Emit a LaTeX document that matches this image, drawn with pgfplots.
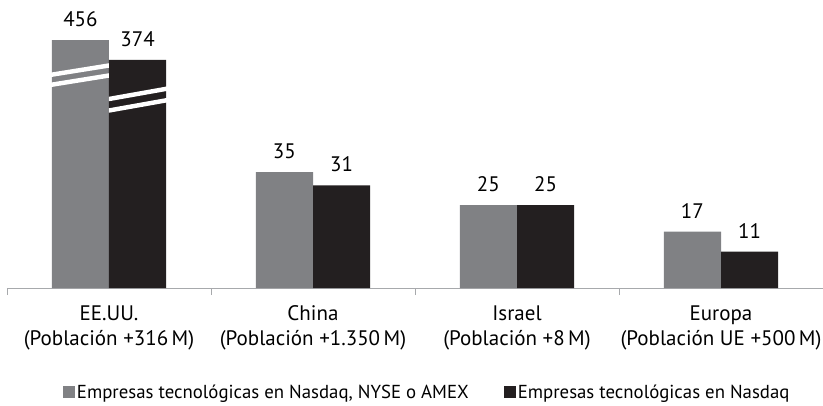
\documentclass[border=0pt]{standalone}
\usepackage{pgfplots}
\pgfplotsset{compat=1.18}
\usepackage{fontspec}
\setmainfont{PT Sans}
\definecolor{bargray}{HTML}{808184}
\definecolor{barblack}{HTML}{231F20}
\definecolor{axgray}{HTML}{A7A9AC}
\newcommand{\lf}{\fontsize{21}{25}\selectfont}
\newcommand{\gf}{\fontsize{18.8}{22}\selectfont}
\begin{document}
\begin{tikzpicture}
\useasboundingbox (-7pt,-117pt) rectangle (816pt,288pt);
\begin{axis}[
  scale only axis,
  width=816pt, height=288pt,
  xmin=-0.5, xmax=3.5, ymin=0, ymax=86.9,
  ybar, bar width=0.28,
  axis y line=none,
  axis x line*=bottom,
  x axis line style={-, draw=axgray, line width=0.8pt},
  xtick={0,1,2,3},
  xticklabels={{EE.UU.\\(Población +316\,M)},{China\\(Población +1.350\,M)},{Israel\\(Población +8\,M)},{Europa\\(Población UE +500\,M)}},
  major tick length=0pt,
  xticklabel style={align=center, font=\lf, yshift=-14pt},
  extra x ticks={-0.5,0.5,1.5,2.5,3.5},
  extra x tick labels={},
  extra x tick style={major tick length=7pt, tick align=outside, tick style={draw=axgray, line width=0.8pt}},
  clip=false,
  point meta=explicit symbolic,
  nodes near coords={\pgfplotspointmeta},
  nodes near coords style={anchor=south, inner sep=0pt, yshift=13pt, font=\lf, text=black},
  legend columns=2,
  legend style={at={(axis description cs:0.515,0)}, anchor=center, yshift=-104pt, draw=none, fill=none,
    font=\gf, nodes={inner sep=1.5pt},
    /tikz/every even column/.append style={column sep=34pt}},
  legend image code/.code={\fill[#1] (0pt,-6pt) rectangle (12pt,6pt);},
]
\addplot[fill=bargray, draw=none, bar shift=-0.14] coordinates {(0,74.8)[456] (1,35)[35] (2,25)[25] (3,17)[17]};
\addplot[fill=barblack, draw=none, bar shift=0.14] coordinates {(0,68.8)[374] (1,31)[31] (2,25)[25] (3,11)[11]};
\legend{{\gf Empresas tecnológicas en Nasdaq, NYSE o AMEX},{\gf Empresas tecnológicas en Nasdaq}}
% break marks
\fill[white] (axis cs:-0.29,63.6) -- (axis cs:-0.29,64.95) -- (axis cs:0,67.82) -- (axis cs:0,66.46) -- cycle;
\fill[white] (axis cs:-0.29,60.57) -- (axis cs:-0.29,61.93) -- (axis cs:0,64.8) -- (axis cs:0,63.44) -- cycle;
\fill[white] (axis cs:0,56.35) -- (axis cs:0,57.71) -- (axis cs:0.29,60.88) -- (axis cs:0.29,59.52) -- cycle;
\fill[white] (axis cs:0,52.88) -- (axis cs:0,54.24) -- (axis cs:0.29,57.41) -- (axis cs:0.29,56.05) -- cycle;
\end{axis}
\end{tikzpicture}
\end{document}
